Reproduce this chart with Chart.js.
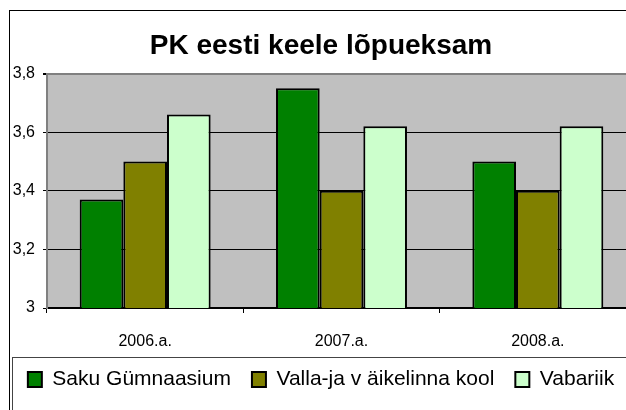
<!DOCTYPE html>
<html>
<head>
<meta charset="utf-8">
<script src="https://cdn.jsdelivr.net/npm/chart.js@4"></script>
<style>
  html, body { margin: 0; padding: 0; background: #fff; overflow: hidden; }
  #wrap { position: relative; width: 650px; height: 411px; }
</style>
</head>
<body>
<div id="wrap"><canvas id="barChart"></canvas></div>
<script>
const categories = ['2006.a.', '2007.a.', '2008.a.']
const sakuGymnaasium = [3.37, 3.75, 3.5]
const vallaKool = [3.5, 3.4, 3.4]
const vabariik = [3.66, 3.62, 3.62]
const yTicks = [3, 3.2, 3.4, 3.6, 3.8]

// plot background + frame lines like the old Excel picture
const frame = {
    id: 'frame',
    beforeDraw(chart) {
        const {ctx, chartArea} = chart
        ctx.save()
        ctx.fillStyle = '#c0c0c0'
        ctx.fillRect(chartArea.left, chartArea.top, chartArea.right - chartArea.left, chartArea.bottom - chartArea.top)
        ctx.restore()
    },
    afterDraw(chart) {
        const {ctx} = chart
        const lg = chart.legend
        ctx.save()
        ctx.strokeStyle = '#000'
        ctx.lineWidth = 1
        ctx.strokeRect(9.5, 10.5, chart.width, chart.height)
        const ly = Math.round(lg.top + lg.options.labels.padding + 10.5 - 23) + 0.5
        ctx.strokeStyle = '#444'
        ctx.strokeRect(12.5, ly, chart.width, chart.height)
        ctx.restore()
    }
}

new Chart('barChart', {
    type: 'bar',
    data: {
        labels: categories,
        datasets: [
            {
                label: 'Saku Gümnaasium',
                data: sakuGymnaasium,
                backgroundColor: '#008000',
                borderColor: '#000',
                borderWidth: 2
            },
            {
                label: 'Valla-ja v äikelinna kool',
                data: vallaKool,
                backgroundColor: '#808000',
                borderColor: '#000',
                borderWidth: 2
            },
            {
                label: 'Vabariik',
                data: vabariik,
                backgroundColor: '#ccffcc',
                borderColor: '#000',
                borderWidth: 2
            }
        ]
    },
    options: {
        responsive: true,
        maintainAspectRatio: false,
        animation: false,
        layout: {
            padding: { left: 6, right: 14, top: 0, bottom: 11 }
        },
        datasets: {
            bar: {
                categoryPercentage: 0.667,
                barPercentage: 1
            }
        },
        plugins: {
            title: {
                display: true,
                text: 'PK eesti keele lõpueksam',
                color: '#000',
                font: { family: 'Liberation Sans', size: 28, weight: 'bold' },
                padding: { top: 29, bottom: 11 }
            },
            legend: {
                position: 'bottom',
                labels: {
                    color: '#000',
                    font: { family: 'Liberation Sans', size: 21 },
                    boxWidth: 14,
                    boxHeight: 15,
                    padding: 21
                }
            },
            tooltip: { enabled: false }
        },
        scales: {
            x: {
                afterFit(scale) {
                    scale.height = 40
                },
                grid: {
                    drawOnChartArea: false,
                    tickLength: 5,
                    tickColor: '#000',
                    offset: true
                },
                border: { color: '#000', width: 2 },
                ticks: {
                    color: '#000',
                    padding: 21,
                    font: { family: 'Liberation Sans', size: 16, lineHeight: 1 }
                }
            },
            y: {
                min: 3,
                max: 3.8,
                afterFit(scale) {
                    scale.width = 41
                },
                afterBuildTicks(axis) {
                    axis.ticks = yTicks.map(v => ({ value: v }))
                },
                grid: {
                    color: ctx => ctx.tick && ctx.tick.value === 3.8 ? '#808080' : '#000',
                    lineWidth: ctx => ctx.tick && ctx.tick.value === 3.8 ? 2 : 1,
                    tickColor: '#000',
                    tickLength: 4
                },
                border: { color: '#808080', width: 2 },
                ticks: {
                    color: '#000',
                    padding: 8,
                    font: { family: 'Liberation Sans', size: 16 },
                    callback: v => Math.abs(v - 3) < 1e-9 ? '3' : v.toFixed(1).replace('.', ',')
                }
            }
        }
    },
    plugins: [frame]
})
</script>
</body>
</html>
